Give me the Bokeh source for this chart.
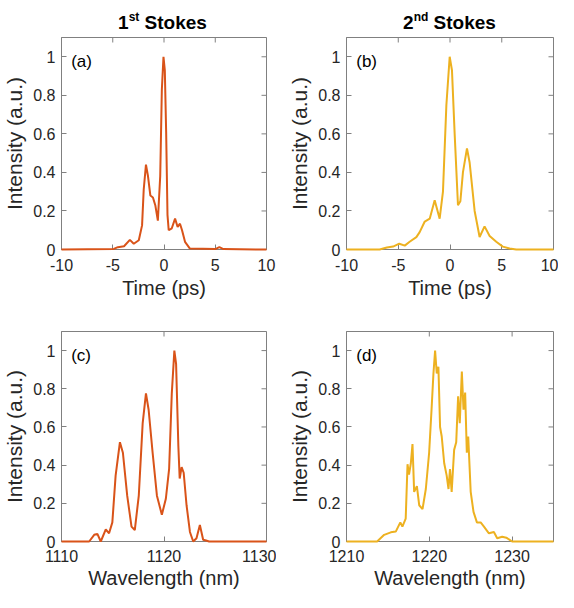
import math
from bokeh.plotting import figure
from bokeh.models import FixedTicker, Label, Range1d, Div
from bokeh.layouts import column, row
from bokeh.embed import file_html
from bokeh.resources import INLINE

# ---------------- data ----------------
t_a = [-10, -4.9, -4.5, -3.9, -3.33, -2.95, -2.46, -2.14, -1.98, -1.76, -1.56, -1.33,
       -1.08, -0.85, -0.6, -0.37, -0.21, -0.05, 0.08, 0.21, 0.34, 0.46, 0.76, 1.08,
       1.33, 1.56, 1.76, 2.05, 2.53, 5.0, 5.4, 5.8, 10]
i_a = [0, 0.003, 0.012, 0.017, 0.05, 0.03, 0.048, 0.125, 0.31, 0.44, 0.38, 0.28,
       0.27, 0.23, 0.15, 0.38, 0.83, 1.0, 0.93, 0.61, 0.18, 0.10, 0.11, 0.16,
       0.117, 0.134, 0.10, 0.04, 0.005, 0.002, 0.012, 0.002, 0]

t_b = [-10, -6.8, -6.1, -5.5, -4.9, -4.37, -3.9, -3.25, -2.93, -2.44, -1.96, -1.48,
       -1.0, -0.68, -0.35, -0.03, 0.19, 0.45, 0.77, 1.0, 1.25, 1.64, 1.9, 2.38,
       2.86, 3.34, 3.83, 4.47, 5.1, 5.76, 6.4, 10]
i_b = [0, 0, 0.01, 0.015, 0.03, 0.02, 0.04, 0.064, 0.09, 0.145, 0.16, 0.255,
       0.16, 0.30, 0.75, 1.0, 0.93, 0.6, 0.23, 0.25, 0.4, 0.525, 0.45, 0.2,
       0.065, 0.12, 0.07, 0.04, 0.015, 0.005, 0, 0]

w_c = [1110, 1112.7, 1113.19, 1113.5, 1113.83, 1114.32, 1114.64, 1114.96, 1115.28,
       1115.7, 1115.99, 1116.41, 1116.83, 1117.15, 1117.54, 1117.92, 1118.24, 1118.5,
       1118.89, 1119.31, 1119.79, 1120.18, 1120.5, 1120.76, 1121.01, 1121.18, 1121.4,
       1121.53, 1121.72, 1121.92, 1122.2, 1122.53, 1122.85, 1123.17, 1123.5, 1123.82,
       1124.1, 1124.4, 1130]
i_c = [0, 0, 0.035, 0.04, 0.0, 0.064, 0.043, 0.10, 0.345,
       0.52, 0.465, 0.24, 0.078, 0.06, 0.24, 0.62, 0.776, 0.69,
       0.465, 0.24, 0.14, 0.224, 0.38, 0.776, 1.0, 0.93, 0.5,
       0.33, 0.39, 0.36, 0.19, 0.05, 0.0, 0.017, 0.086, 0.009,
       0.005, 0, 0]

w_d = [1210, 1213.7, 1214.55, 1215.35, 1215.95, 1216.5, 1216.75, 1217.15, 1217.37,
       1217.55, 1217.77, 1217.97, 1218.17, 1218.5, 1218.78, 1219.18, 1219.58, 1219.98,
       1220.27, 1220.5, 1220.7, 1220.9, 1221.1, 1221.3, 1221.5, 1221.8, 1222.1,
       1222.32, 1222.5, 1222.7, 1223.0, 1223.25, 1223.48, 1223.68, 1223.93, 1224.13,
       1224.33, 1224.53, 1224.7, 1225.0, 1225.34, 1225.75, 1226.2, 1226.6, 1227.2,
       1227.8, 1228.2, 1228.8, 1229.3, 1230.0, 1235]
i_d = [0, 0, 0.035, 0.048, 0.052, 0.10, 0.078, 0.12, 0.405,
       0.35, 0.41, 0.51, 0.26, 0.29, 0.19, 0.17, 0.275, 0.465,
       0.69, 0.88, 1.0, 0.88, 0.915, 0.60, 0.55, 0.41, 0.345,
       0.275, 0.38, 0.26, 0.48, 0.52, 0.76, 0.62, 0.89, 0.69,
       0.78, 0.465, 0.55, 0.26, 0.155, 0.10, 0.10, 0.078, 0.043,
       0.05, 0.017, 0.025, 0.02, 0, 0]

y_ticks = [0, 0.2, 0.4, 0.6, 0.8, 1]
y_tick_labels = ["0", "0.2", "0.4", "0.6", "0.8", "1"]
time_ticks = [-10, -5, 0, 5, 10]
time_tick_labels = ["-10", "-5", "0", "5", "10"]
wl1_ticks = [1110, 1120, 1130]
wl1_tick_labels = ["1110", "1120", "1130"]
wl2_ticks = [1210, 1220, 1230]
wl2_tick_labels = ["1210", "1220", "1230"]
Y_MAX = 1.1

ORANGE = "#D95319"
YELLOW = "#EDB120"
FONT = "Liberation Sans"
AX = "#808080"
TXT = "#262626"


def make(xs, ys, color, xr, xt, xtl, xlabel, panel, bl, br, bt, bb, fh, tick_sd, lab_sd):
    p = figure(width=bl + 207 + br, height=bt + fh + bb,
               x_range=Range1d(*xr), y_range=Range1d(0, Y_MAX),
               output_backend="svg", toolbar_location=None,
               min_border_left=bl, min_border_right=br,
               min_border_top=bt, min_border_bottom=bb)
    p.xgrid.visible = False
    p.ygrid.visible = False
    p.outline_line_color = AX
    p.outline_line_width = 1
    p.background_fill_color = "white"
    p.border_fill_color = "white"

    xa = p.below[0]
    xa.ticker = FixedTicker(ticks=xt)
    xa.major_label_overrides = {v: s for v, s in zip(xt, xtl)}
    ya = p.left[0]
    ya.ticker = FixedTicker(ticks=y_ticks)
    ya.major_label_overrides = {v: s for v, s in zip(y_ticks, y_tick_labels)}
    for a in (xa, ya):
        a.axis_line_color = AX
        a.major_tick_line_color = AX
        a.major_tick_in = 5
        a.major_tick_out = 0
        a.minor_tick_line_color = None
        a.major_label_text_font = FONT
        a.major_label_text_font_size = "16px"
        a.major_label_text_color = TXT
        a.axis_label_text_font = FONT
        a.axis_label_text_font_style = "normal"
        a.axis_label_text_color = TXT
    xa.axis_label = xlabel
    xa.axis_label_text_font_size = "20px"
    xa.major_label_standoff = tick_sd
    xa.axis_label_standoff = lab_sd
    ya.axis_label = "Intensity (a.u.)"
    ya.axis_label_text_font_size = "21px"
    ya.major_label_standoff = 6
    ya.axis_label_standoff = 4

    # mirrored (box-style) tick marks on the top and right edges, half clipped by the frame
    p.scatter(xt, [Y_MAX] * len(xt), marker="dash", size=10, angle=math.pi / 2,
              line_color=AX, line_width=1)
    p.scatter([xr[1]] * len(y_ticks), y_ticks, marker="dash", size=10,
              line_color=AX, line_width=1)

    r = p.line(xs, ys, line_color=color, line_width=2)
    r.level = "overlay"

    span = xr[1] - xr[0]
    p.add_layout(Label(x=xr[0] + span * 0.047, y=0.975, text=panel,
                       text_font=FONT, text_font_size="17px", text_color="#000000",
                       text_baseline="middle", text_align="left"))
    return p


def title_div(num, sup, left, width, h):
    html = (f'<div style="box-sizing:border-box;width:{width}px;height:{h}px;'
            f'padding-left:{left}px;padding-top:12px;font-family:\'{FONT}\';'
            f'font-weight:bold;font-size:19px;line-height:22px;color:#000;'
            f'white-space:nowrap;overflow:hidden;">'
            f'<div style="width:207px;text-align:center;">{num}'
            f'<span style="font-size:12px;position:relative;top:-8px;">{sup}</span>'
            f' Stokes</div></div>')
    return Div(text=html, width=width, height=h, margin=(0, 0, 0, 0))


pa = make(t_a, i_a, ORANGE, (-10, 10), time_ticks, time_tick_labels, "Time (ps)", "(a)",
          59, 10, 2, 54, 212, 9, 3)
pb = make(t_b, i_b, YELLOW, (-10, 10), time_ticks, time_tick_labels, "Time (ps)", "(b)",
          70, 5, 2, 54, 212, 9, 3)
pc = make(w_c, i_c, ORANGE, (1110, 1130), wl1_ticks, wl1_tick_labels, "Wavelength (nm)", "(c)",
          59, 10, 28, 51, 210, 8, 2)
pd = make(w_d, i_d, YELLOW, (1210, 1235), wl2_ticks, wl2_tick_labels, "Wavelength (nm)", "(d)",
          70, 5, 28, 51, 210, 8, 2)

ta = title_div("1", "st", 59, 276, 35)
tb = title_div("2", "nd", 70, 282, 35)

layout = column(row(ta, tb), row(pa, pb), row(pc, pd))

with open("out.html", "w") as f:
    f.write(file_html(layout, INLINE))
